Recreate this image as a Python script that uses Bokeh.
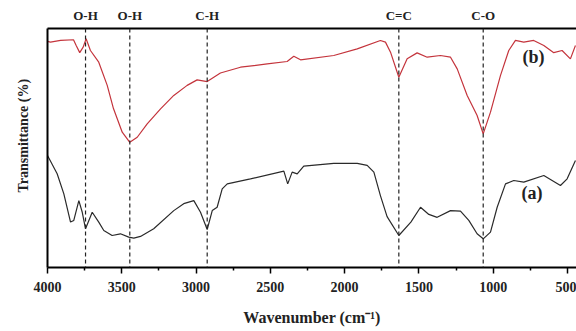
from bokeh.plotting import figure
from bokeh.models import Range1d, FixedTicker, LinearAxis, Span, Label, Title
from bokeh.embed import file_html
from bokeh.resources import INLINE

# ---- data ----
wn_b = [4000, 3980, 3912, 3825, 3807, 3783, 3760, 3740, 3711, 3655,
        3598, 3556, 3497, 3446, 3396, 3329, 3239, 3150, 3060, 2993,
        2925, 2836, 2701, 2521, 2387, 2342, 2297, 2073, 1915, 1759,
        1725, 1691, 1635, 1579, 1512, 1444, 1355, 1287, 1242, 1175,
        1108, 1067, 1018, 951, 895, 850, 794, 727, 659, 592,
        536, 480, 446]
t_b = [94.6, 94.3, 95.0, 95.3, 92.9, 89.9, 92.2, 95.7, 90.8, 85.9,
       76.2, 66.5, 56.6, 52.4, 54.5, 60.1, 66.4, 72.0, 76.2, 78.5,
       77.8, 81.4, 83.8, 85.2, 86.2, 88.4, 86.9, 88.7, 91.5, 95.0,
       94.3, 90.1, 79.6, 87.3, 89.8, 88.0, 88.7, 88.0, 83.1, 72.0,
       63.6, 55.9, 65.0, 80.3, 90.8, 95.0, 94.3, 95.0, 92.9, 89.9,
       90.8, 87.3, 92.9]

wn_a = [4000, 3935, 3890, 3845, 3823, 3789, 3766, 3744, 3699, 3655,
        3621, 3565, 3509, 3453, 3419, 3374, 3285, 3150, 3083, 3015,
        2970, 2925, 2891, 2858, 2824, 2790, 2634, 2409, 2383, 2353,
        2319, 2275, 2073, 1915, 1848, 1803, 1759, 1714, 1635, 1554,
        1489, 1433, 1377, 1287, 1220, 1164, 1108, 1067, 1018, 973,
        917, 861, 794, 659, 603, 547, 502, 446]
t_a = [46.9, 39.2, 30.8, 19.0, 19.7, 28.0, 23.1, 16.2, 23.1, 19.0,
       15.5, 13.4, 14.1, 12.7, 12.3, 13.0, 16.2, 23.8, 26.7, 28.0,
       23.1, 15.9, 23.8, 25.2, 32.9, 35.0, 37.1, 40.3, 35.0, 39.9,
       39.2, 42.4, 43.6, 43.6, 42.7, 39.9, 30.1, 21.3, 13.4, 19.0,
       25.2, 22.2, 21.0, 23.8, 23.6, 19.7, 14.1, 12.0, 14.8, 25.2,
       35.0, 36.4, 35.7, 38.5, 36.4, 34.3, 37.1, 44.8]

band_wn = [3744, 3446, 2925, 1635, 1067]
band_labels = ["O-H", "O-H", "C-H", "C=C", "C-O"]

x_ticks = [4000, 3500, 3000, 2500, 2000, 1500, 1000, 500]
x_minor = [3750, 3250, 2750, 2250, 1750, 1250, 750]

series_labels = ["(b)", "(a)"]
series_label_pos = [(729, 88.0), (738, 31.0)]

FONT = "Liberation Serif"
INK = "#222222"

p = figure(width=576, height=331, output_backend="svg", toolbar_location=None,
           x_range=Range1d(4000, 439), y_range=Range1d(0, 100),
           min_border_left=47, min_border_right=0, min_border_top=28,
           min_border_bottom=64)
p.outline_line_color = None
p.grid.visible = False
p.background_fill_color = "white"

# curves
p.line(wn_b, t_b, line_color="#c4343c", line_width=1.2)
p.line(wn_a, t_a, line_color="#2a2a2a", line_width=1.2)

# band markers
for w in band_wn:
    p.add_layout(Span(location=w, dimension="height", line_color=INK,
                      line_dash="4 3", line_width=1.2))

# x axis
xa = p.xaxis[0]
xa.ticker = FixedTicker(ticks=x_ticks, minor_ticks=x_minor)
xa.axis_line_width = 2
xa.axis_line_color = "black"
xa.major_tick_in = 0
xa.major_tick_out = 6
xa.minor_tick_in = 0
xa.minor_tick_out = 3
xa.major_tick_line_width = 1.5
xa.minor_tick_line_width = 1.5
xa.major_label_text_font = FONT
xa.major_label_text_font_style = "bold"
xa.major_label_text_font_size = "14px"
xa.major_label_text_color = INK
xa.major_label_standoff = 8
xa.axis_label = "Wavenumber (cm\u207b\u00b9)"
xa.axis_label_text_font = FONT
xa.axis_label_text_font_style = "bold"
xa.axis_label_text_font_size = "16px"
xa.axis_label_text_color = INK
xa.axis_label_standoff = 14

# y axis: line only
ya = p.yaxis[0]
ya.ticker = FixedTicker(ticks=[])
ya.axis_line_width = 2
ya.axis_line_color = "black"
ya.major_tick_in = 0
ya.major_tick_out = 0
ya.minor_tick_in = 0
ya.minor_tick_out = 0
ya.major_label_standoff = 0

# top border carrying the band labels
top = LinearAxis(ticker=FixedTicker(ticks=band_wn),
                 major_label_overrides={w: t for w, t in zip(band_wn, band_labels)},
                 axis_line_width=2, axis_line_color="black",
                 major_tick_out=0, major_tick_in=0,
                 minor_tick_out=0, minor_tick_in=0, major_label_standoff=6,
                 major_label_text_font=FONT, major_label_text_font_style="bold",
                 major_label_text_font_size="13px", major_label_text_color=INK)
p.add_layout(top, "above")

# y label as a left title
p.add_layout(Title(text="Transmittance (%)", align="left", offset=75,
                   vertical_align="top",
                   text_font=FONT, text_font_style="bold",
                   text_font_size="14px", text_color=INK, standoff=30), "left")

# series labels
for t, (x, y) in zip(series_labels, series_label_pos):
    p.add_layout(Label(x=x, y=y, text=t, text_align="center",
                       text_baseline="middle", text_font=FONT,
                       text_font_style="bold", text_font_size="18px",
                       text_color=INK))

open("out.html", "w").write(file_html(p, INLINE))
